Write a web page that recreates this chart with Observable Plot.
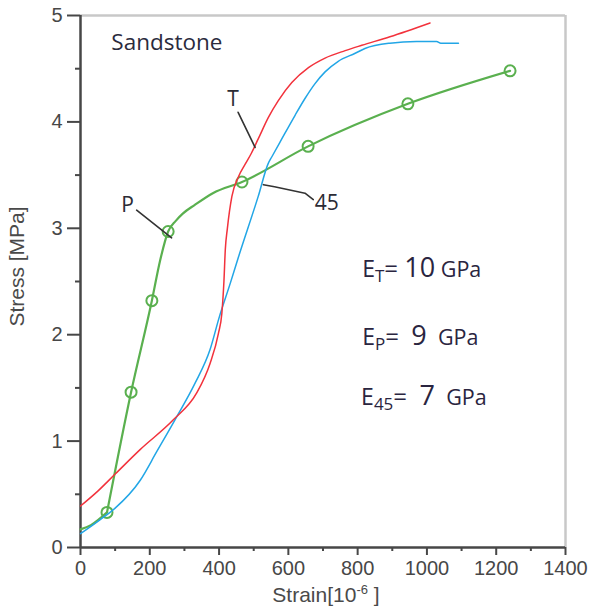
<!DOCTYPE html>
<html><head><meta charset="utf-8">
<script src="https://cdn.jsdelivr.net/npm/d3@7"></script>
<script src="https://cdn.jsdelivr.net/npm/@observablehq/plot@0.6"></script>
<style>
html,body{margin:0;padding:0;background:#fff;}
#chart svg{display:block;}
</style>
</head><body><div id="chart"></div>
<script>
// ---- data (strain in 10^-6, stress in MPa) ----
const tStrain = [0, 50, 100, 172, 268, 335, 374, 398, 408, 414, 418, 424, 437, 456, 475, 494, 513, 542, 571, 610, 658, 706, 764, 812, 893, 1009];
const tStress = [0.39, 0.53, 0.69, 0.92, 1.20, 1.45, 1.73, 2.01, 2.20, 2.50, 2.80, 3.00, 3.30, 3.485, 3.60, 3.71, 3.84, 4.04, 4.20, 4.37, 4.51, 4.60, 4.67, 4.72, 4.80, 4.93];

const aStrain = [0, 56, 100, 172, 220, 278, 330, 374, 401, 432, 456, 513, 542, 552, 581, 619, 648, 677, 706, 744, 793, 821, 893, 970, 1028, 1040, 1091];
const aStress = [0.13, 0.26, 0.37, 0.63, 0.90, 1.23, 1.54, 1.86, 2.17, 2.48, 2.73, 3.30, 3.61, 3.67, 3.84, 4.06, 4.22, 4.36, 4.47, 4.57, 4.645, 4.69, 4.74, 4.755, 4.755, 4.74, 4.74];

// P curve: initial toe (up to first marker) and main branch from first marker on
const pToeStrain = [0, 30, 76.5];
const pToeStress = [0.17, 0.21, 0.33];
const pStrain = [76.5, 146, 206, 230, 253, 275, 296, 330, 382, 466, 657, 945, 1240];
const pStress = [0.33, 1.46, 2.32, 2.70, 2.97, 3.07, 3.14, 3.22, 3.33, 3.435, 3.77, 4.17, 4.48];

const pMarkStrain = [76.5, 146, 206, 253, 466, 657, 945, 1240];
const pMarkStress = [0.33, 1.46, 2.32, 2.97, 3.435, 3.77, 4.17, 4.48];

const xTicks = [0, 200, 400, 600, 800, 1000, 1200, 1400];
const xMinor = [100, 300, 500, 700, 900, 1100, 1300];
const yTicks = [0, 1, 2, 3, 4, 5];
const yMinor = [0.5, 1.5, 2.5, 3.5, 4.5];

// curve labels and leader lines (annotation anchors in data units)
const curveLabels = ["T", "P", "45"];
const curveLabelX = [440, 136, 711];
const curveLabelY = [4.21, 3.22, 3.235];
const leaderT = [[455, 4.09], [504, 3.76]];
const leaderP = [[162, 3.17], [263, 2.91]];
const leader45 = [[528, 3.41], [560, 3.39], [648, 3.33], [672, 3.27]];

const moduliSub = ["T", "P", "45"];
const moduliVal = ["10", "9", "7"];
const moduliX = [813, 813, 810];
const moduliY = [2.545, 1.903, 1.339];

const toPts = (xs, ys, seg = 0) => xs.map((x, i) => ({strain: x, stress: ys[i], seg}));
const tData = toPts(tStrain, tStress);
const aData = toPts(aStrain, aStress);
const pData = [...toPts(pToeStrain, pToeStress, 0), ...toPts(pStrain, pStress, 1)];
const pMarks = toPts(pMarkStrain, pMarkStress);
const leaders = [leaderT, leaderP, leader45].flatMap((l, k) => l.map(([x, y]) => ({strain: x, stress: y, k})));

const RED = "#f2323c", BLUE = "#22a6e6", GREEN = "#5ab04f";
const AX = "#474747";

const plot = Plot.plot({
  width: 592, height: 607,
  marginLeft: 80, marginRight: 27, marginTop: 15, marginBottom: 60,
  x: {domain: [0, 1400], axis: null},
  y: {domain: [0, 5], axis: null},
  style: {fontFamily: "'Liberation Sans', Arial, sans-serif", background: "#fff", overflow: "visible"},
  marks: [
    Plot.ruleY([5], {stroke: "#c8c8c8", strokeWidth: 2.5}),
    Plot.ruleX([1400], {stroke: "#c8c8c8", strokeWidth: 2.5}),
    Plot.axisY({ticks: yTicks, tickSize: 13, tickPadding: 5, fontSize: 20, color: AX, strokeWidth: 2, label: null, tickFormat: d => String(d)}),
    Plot.axisY({ticks: yMinor, tickSize: 5, tickPadding: 0, color: AX, strokeWidth: 2, label: null, tickFormat: () => ""}),
    Plot.axisX({ticks: xTicks, tickSize: 8, tickPadding: 5, fontSize: 20, color: AX, strokeWidth: 2, label: null, tickFormat: d => String(d)}),
    Plot.axisX({ticks: xMinor, tickSize: 4, tickPadding: 0, color: AX, strokeWidth: 2, label: null, tickFormat: () => ""}),
    Plot.ruleX([0], {stroke: AX, strokeWidth: 2.5}),
    Plot.ruleY([0], {stroke: AX, strokeWidth: 2.5}),
    Plot.line(pData, {x: "strain", y: "stress", z: "seg", stroke: GREEN, strokeWidth: 2.2, curve: "monotone-x"}),
    Plot.dot(pMarks, {x: "strain", y: "stress", r: 5.5, stroke: GREEN, strokeWidth: 2, fill: "none"}),
    Plot.line(aData, {x: "strain", y: "stress", stroke: BLUE, strokeWidth: 1.5, curve: "monotone-x"}),
    Plot.line(tData, {x: "strain", y: "stress", stroke: RED, strokeWidth: 1.5, curve: "monotone-x"}),
    Plot.line(leaders, {x: "strain", y: "stress", z: "k", stroke: "#333", strokeWidth: 1.6}),
    Plot.text(curveLabels, {x: (d, i) => curveLabelX[i], y: (d, i) => curveLabelY[i], text: d => d, fontSize: 21, fill: "#2b2b35", fontFamily: "'Open Sans', sans-serif"}),
    Plot.text(["Sandstone"], {x: 89, y: 4.74, text: d => d, textAnchor: "start", fontSize: 22.5, fill: "#2b2b3d", fontFamily: "'Open Sans', sans-serif"}),
    Plot.text(moduliSub, {x: (d, i) => moduliX[i], y: (d, i) => moduliY[i], text: (d, i) => `E|${d}|${moduliVal[i]}`, textAnchor: "start", lineAnchor: "bottom", fill: "#2a2540", fontFamily: "'Open Sans', sans-serif"}),
    Plot.text(["Strain[10|-6| ]"], {frameAnchor: "bottom", dx: 3, dy: 54, text: d => d, textAnchor: "middle", lineAnchor: "bottom", fontSize: 21, fill: "#4a4a4a"}),
    Plot.text(["Stress [MPa]"], {frameAnchor: "left", dx: -63, dy: -15, text: d => d, textAnchor: "middle", lineAnchor: "middle", rotate: -90, fontSize: 21, fill: "#4a4a4a"})
  ]
});

const svg = d3.select(plot);
svg.selectAll("text").each(function () {
  const s = this.textContent;
  if (!s.includes("|")) return;
  const parts = s.split("|");
  const t = d3.select(this);
  t.text(null);
  if (parts[0] === "E") {
    const sub = parts[1], val = parts[2];
    t.append("tspan").attr("font-size", 23).text("E");
    t.append("tspan").attr("font-size", 17).attr("dy", 5).text(sub);
    t.append("tspan").attr("font-size", 24).attr("dy", -5).text(val.length > 1 ? "= " : "=  ");
    t.append("tspan").attr("font-size", 27).text(val);
    t.append("tspan").attr("font-size", 21.5).text(val.length > 1 ? " GPa" : "  GPa");
  } else {
    t.append("tspan").text(parts[0]);
    t.append("tspan").attr("font-size", 13).attr("dy", -8).text(parts[1]);
    t.append("tspan").attr("dy", 8).text(parts[2]);
  }
});
document.getElementById("chart").appendChild(plot);
</script>
</body></html>
